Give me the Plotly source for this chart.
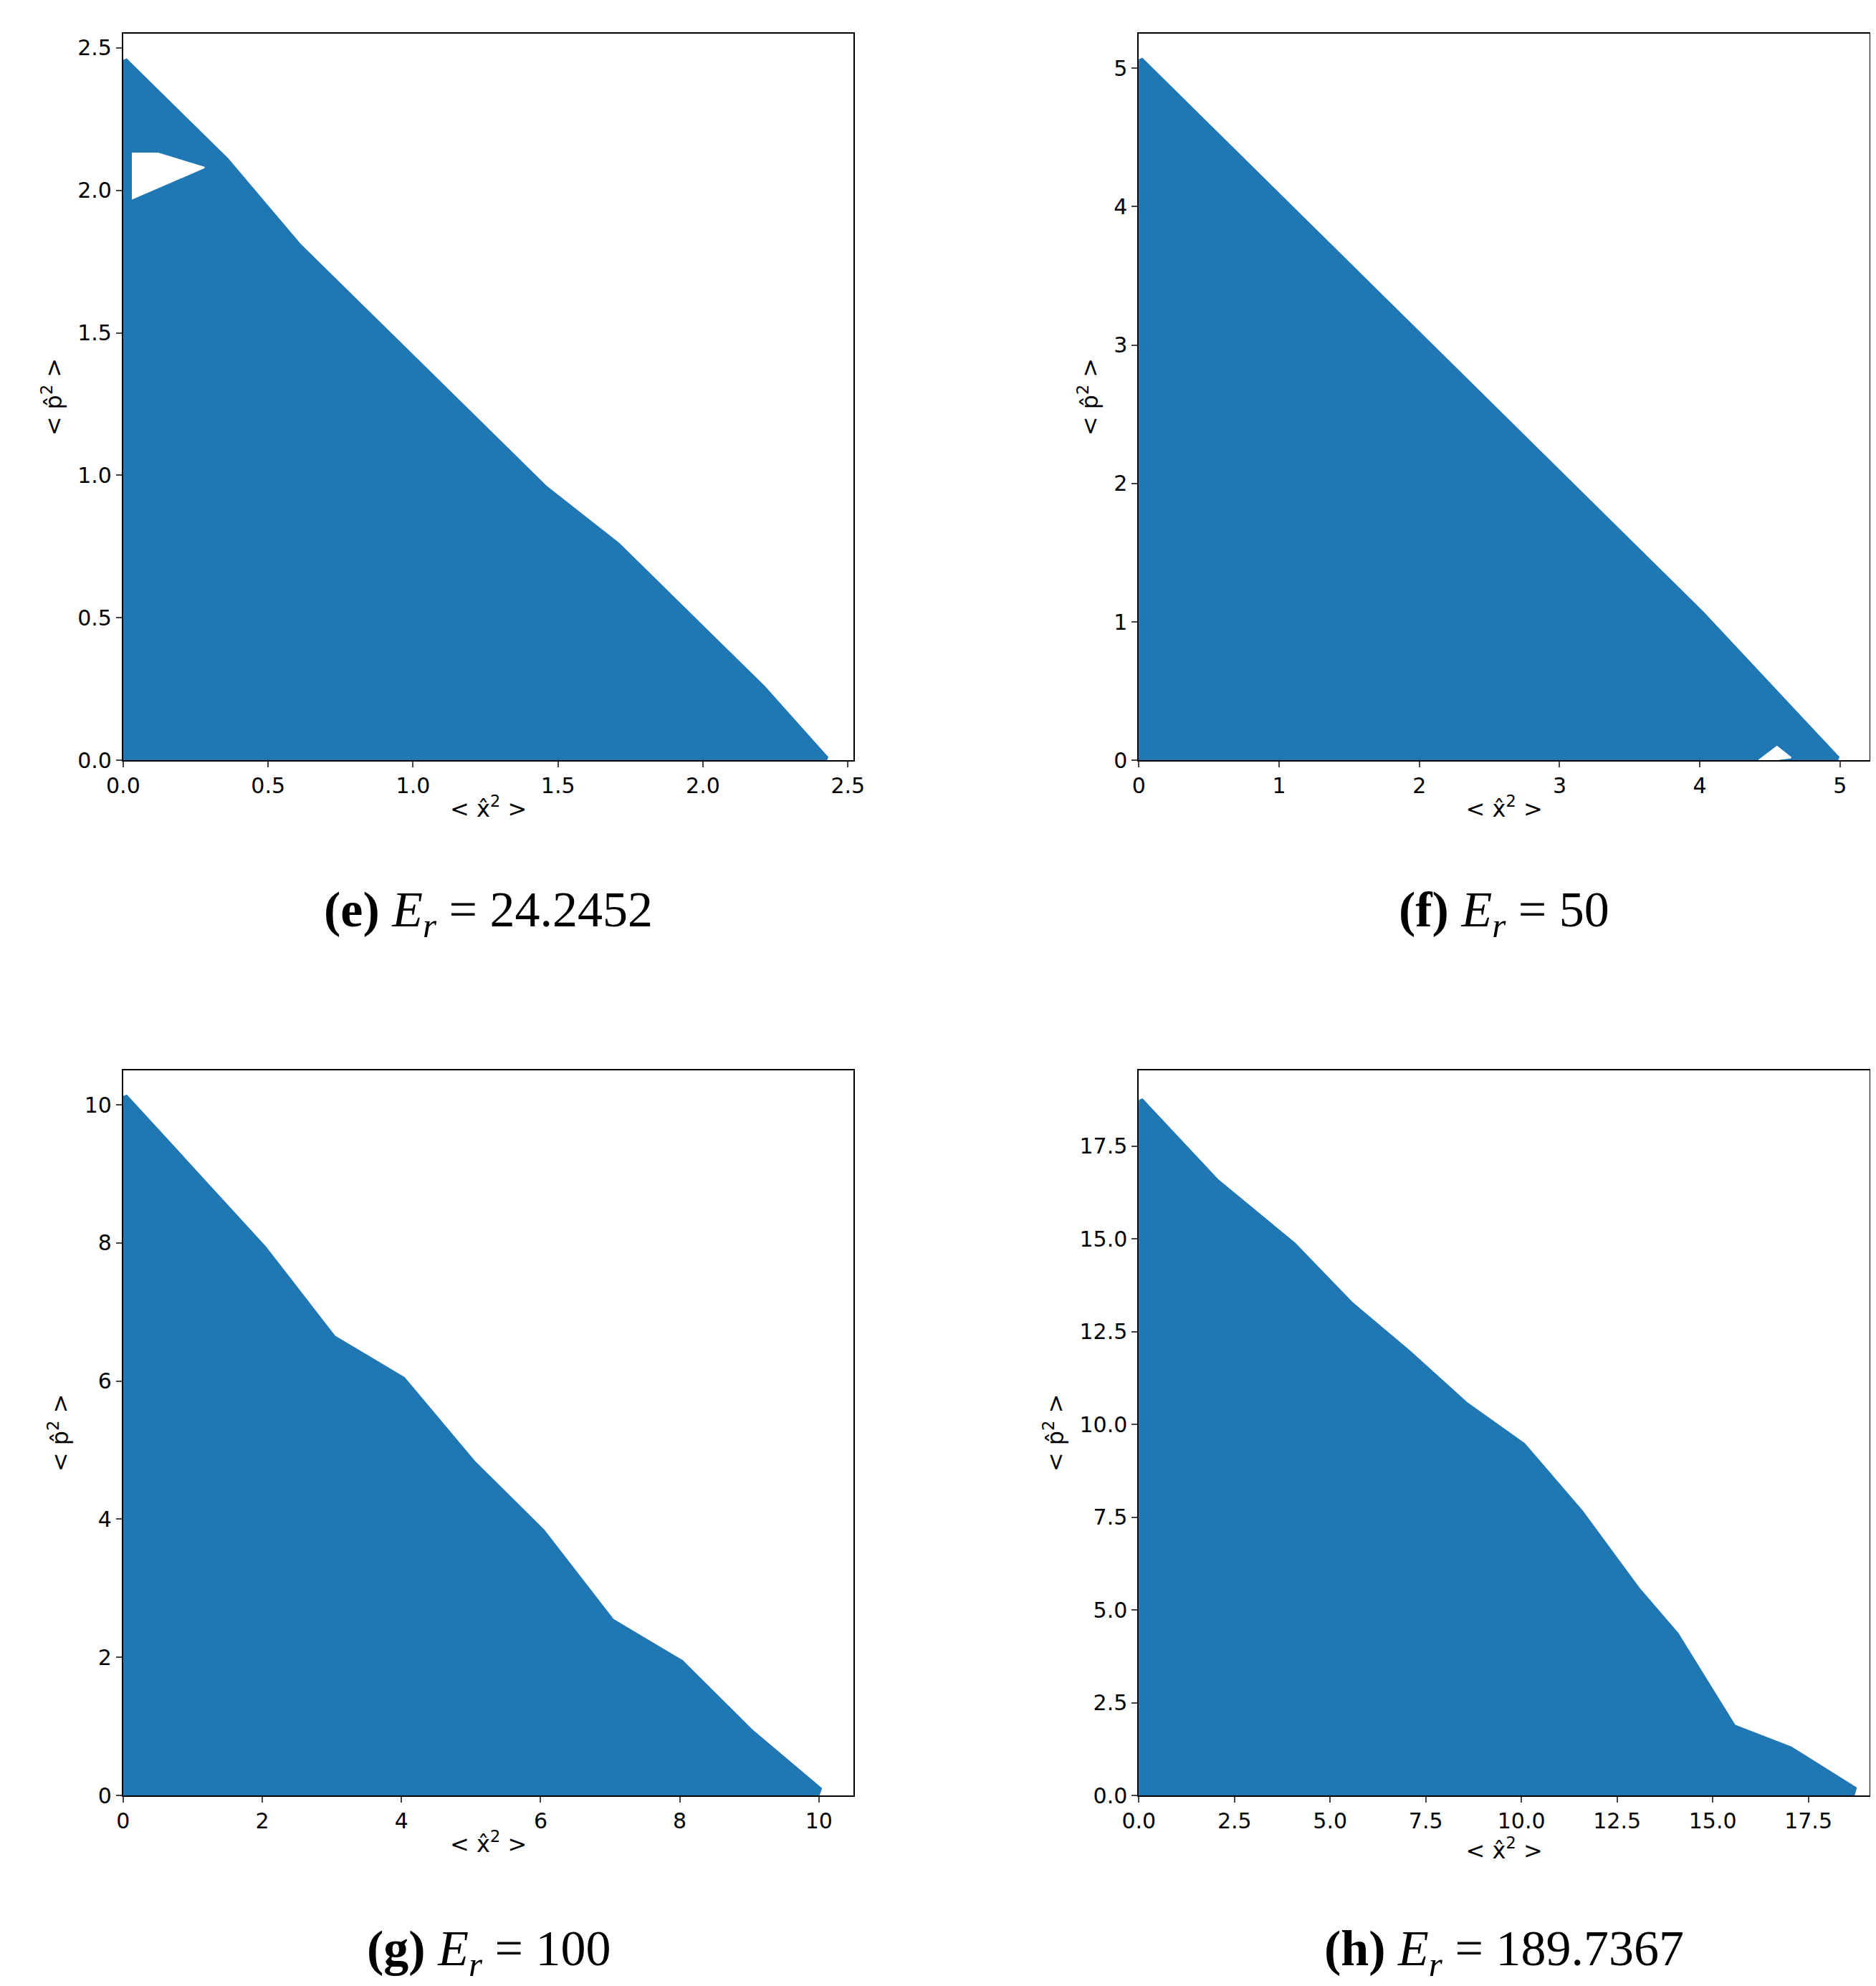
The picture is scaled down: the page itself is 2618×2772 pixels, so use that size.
import plotly.graph_objects as go

# panel captions and axis setup
labels = ["e", "f", "g", "h"]
energies = ["24.2452", "50", "100", "189.7367"]
x_ranges = [[0, 2.52], [0, 5.21], [0, 10.5], [0, 19.1]]
y_ranges = [[0, 2.55], [0, 5.25], [0, 10.5], [0, 19.55]]
x_ticks = [[0, 0.5, 1, 1.5, 2, 2.5], [0, 1, 2, 3, 4, 5], [0, 2, 4, 6, 8, 10],
           [0, 2.5, 5, 7.5, 10, 12.5, 15, 17.5]]
y_ticks = [[0, 0.5, 1, 1.5, 2, 2.5], [0, 1, 2, 3, 4, 5], [0, 2, 4, 6, 8, 10],
           [0, 2.5, 5, 7.5, 10, 12.5, 15, 17.5]]
x_fmt = [".1f", "d", "d", ".1f"]

# envelope of the dense point cloud
env_x = [
    [0, 0, 0.15, 0.35, 0.6, 0.8, 1.0, 1.2, 1.45, 1.7, 1.95, 2.2, 2.42, 0],
    [0, 0, 1.0, 2.0, 3.0, 4.0, 4.97, 0],
    [0, 0, 1.0, 2.0, 3.0, 4.0, 5.0, 6.0, 7.0, 8.0, 9.0, 10.0, 0],
    [0, 0, 2.0, 4.0, 5.5, 7.0, 8.5, 10.0, 11.5, 13.0, 14.0, 15.5, 17.0, 18.7, 0],
]
env_y = [
    [0, 2.45, 2.3, 2.1, 1.8, 1.6, 1.4, 1.2, 0.95, 0.75, 0.5, 0.25, 0, 0],
    [0, 5.05, 4.05, 3.05, 2.05, 1.05, 0, 0],
    [0, 10.1, 9.0, 7.9, 6.6, 6.0, 4.8, 3.8, 2.5, 1.9, 0.9, 0.05, 0],
    [0, 18.7, 16.5, 14.8, 13.2, 11.9, 10.5, 9.4, 7.6, 5.5, 4.3, 1.8, 1.2, 0.1, 0],
]

# holes / gaps visible in the cloud (white, estimated)
gap_x = [
    [0.03, 0.28, 0.12, 0.03],
    [4.42, 4.55, 4.65, 4.5, 4.42],
    [],
    [],
]
gap_y = [
    [1.97, 2.08, 2.13, 2.13],
    [0.0, 0.1, 0.02, 0.0, 0.0],
    [],
    [],
]

BLUE = "#1f77b4"
x_dom = [[0.0626, 0.452], [0.604, 0.9935], [0.0626, 0.452], [0.604, 0.9935]]
y_dom = [[0.62, 0.986], [0.62, 0.986], [0.0988, 0.464], [0.0988, 0.464]]
cap_y = [0.543, 0.543, 0.02, 0.02]

fig = go.Figure()
for i in range(4):
    ax = "" if i == 0 else str(i + 1)
    fig.add_trace(go.Scatter(x=env_x[i], y=env_y[i], fill="toself", mode="lines",
                             line=dict(color=BLUE, width=14), fillcolor=BLUE,
                             xaxis="x" + ax, yaxis="y" + ax, showlegend=False))
    if gap_x[i]:
        fig.add_trace(go.Scatter(x=gap_x[i], y=gap_y[i], fill="toself", mode="lines",
                                 line=dict(color="white", width=2), fillcolor="white",
                                 xaxis="x" + ax, yaxis="y" + ax, showlegend=False))
    common = dict(showline=True, linecolor="black", linewidth=2, mirror=True,
                  ticks="outside", ticklen=8, tickwidth=2, showgrid=False, automargin=False,
                  zeroline=False, tickfont=dict(size=30, family="DejaVu Sans", color="black"))
    tfont = dict(size=32, family="DejaVu Sans", color="black")
    fig.layout["xaxis" + ax] = dict(domain=x_dom[i], range=x_ranges[i], tickvals=x_ticks[i],
                                    tickformat=x_fmt[i], anchor="y" + ax,
                                    title=dict(text="< x̂<sup>2</sup> >", standoff=4, font=tfont),
                                    **common)
    fig.layout["yaxis" + ax] = dict(domain=y_dom[i], range=y_ranges[i], tickvals=y_ticks[i],
                                    tickformat=x_fmt[i], anchor="x" + ax,
                                    title=dict(text="< p̂<sup>2</sup> >", standoff=12, font=tfont),
                                    **common)
    fig.add_annotation(xref="paper", yref="paper", x=sum(x_dom[i]) / 2, y=cap_y[i],
                       xanchor="center", yanchor="middle",
                       text="<b>(%s)</b> <i>E<sub>r</sub></i> = %s" % (labels[i], energies[i]),
                       showarrow=False, font=dict(size=70, family="Liberation Serif", color="black"))

fig.update_layout(width=2618, height=2772, margin=dict(l=0, r=0, t=0, b=0),
                  plot_bgcolor="white", paper_bgcolor="white")
fig.write_html("out.html")
